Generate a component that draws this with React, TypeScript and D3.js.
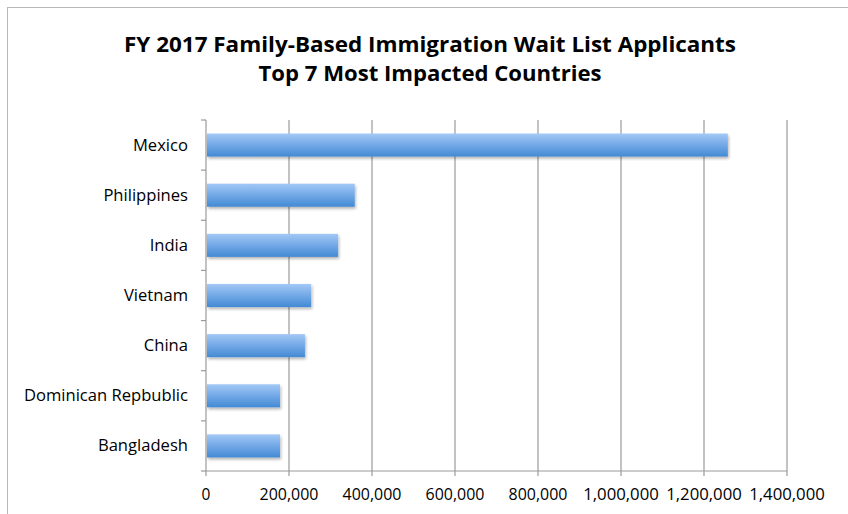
import React from "react";
import * as d3 from "d3";

const countries = ["Mexico", "Philippines", "India", "Vietnam", "China", "Dominican Repbublic", "Bangladesh"];
const applicants = [1255000, 356000, 316000, 251000, 236000, 176000, 176000];
const xTicks = [0, 200000, 400000, 600000, 800000, 1000000, 1200000, 1400000];
const titleLines = ["FY 2017 Family-Based Immigration Wait List Applicants", "Top 7 Most Impacted Countries"];

export default function App() {
  const W = 848, H = 514;
  const left = 206, right = 787, top = 120, bottom = 471;
  const x = d3.scaleLinear().domain([0, 1400000]).range([left, right]);
  const y = d3.scaleBand<string>().domain(countries).range([top, bottom]).paddingInner(0.54).paddingOuter(0.27);
  const fmt = d3.format(",");
  const font = "'Open Sans', 'Liberation Sans', sans-serif";
  const boundaries = d3.range(countries.length + 1).map((i) => top + (i * (bottom - top)) / countries.length);
  return (
    <svg width={W} height={H} style={{ position: "absolute", left: 0, top: 0 }}>
      <defs>
        <linearGradient id="barGrad" x1="0" y1="0" x2="0" y2="1">
          <stop offset="0" stopColor="#a3c8f6" />
          <stop offset="0.5" stopColor="#72a8e6" />
          <stop offset="1" stopColor="#438ad4" />
        </linearGradient>
        <filter id="shadow" x="-5%" y="-20%" width="110%" height="160%">
          <feGaussianBlur in="SourceAlpha" stdDeviation="1.5" />
          <feOffset dx="1" dy="2" result="b" />
          <feComponentTransfer><feFuncA type="linear" slope="0.3" /></feComponentTransfer>
          <feMerge><feMergeNode /><feMergeNode in="SourceGraphic" /></feMerge>
        </filter>
      </defs>
      <rect x={0} y={0} width={W} height={H} fill="#fff" />
      <rect x={7.5} y={7.5} width={W + 20} height={H + 20} fill="none" stroke="#b8b8b8" strokeWidth={1} />
      {titleLines.map((t, i) => (
        <text key={t} x={430} y={52 + i * 29} textAnchor="middle" fontFamily={font} fontWeight="bold" fontSize={20.5}
          textLength={i === 0 ? 612 : 343} lengthAdjust="spacingAndGlyphs" fill="#000">{t}</text>
      ))}
      {xTicks.map((t) => (
        <g key={t}>
          {t > 0 && <line x1={x(t)} x2={x(t)} y1={top} y2={bottom} stroke="#9a9a9a" strokeWidth={1.2} />}
          <line x1={x(t)} x2={x(t)} y1={bottom} y2={bottom + 5} stroke="#9a9a9a" strokeWidth={1.2} />
          <text x={x(t)} y={500} textAnchor="middle" fontFamily={font} fontSize={15.5} fill="#000"
            textLength={t === 0 ? undefined : String(fmt(t)).length * 8.4} lengthAdjust="spacingAndGlyphs">{fmt(t)}</text>
        </g>
      ))}
      {boundaries.map((b, i) => (
        <line key={i} x1={left - 5} x2={left} y1={b} y2={b} stroke="#9a9a9a" strokeWidth={1.2} />
      ))}
      <line x1={left} x2={left} y1={top} y2={bottom} stroke="#9a9a9a" strokeWidth={1.2} />
      <line x1={left} x2={right} y1={bottom} y2={bottom} stroke="#9a9a9a" strokeWidth={1.2} />
      {countries.map((c, i) => (
        <g key={c}>
          <rect x={x(0) + 1} y={y(c)!} width={x(applicants[i]) - x(0)} height={y.bandwidth()} fill="url(#barGrad)" filter="url(#shadow)" />
          <text x={188} y={y(c)! + y.bandwidth() / 2 + 5.5} textAnchor="end" fontFamily={font} fontSize={16.6} fill="#000">{c}</text>
        </g>
      ))}
    </svg>
  );
}
